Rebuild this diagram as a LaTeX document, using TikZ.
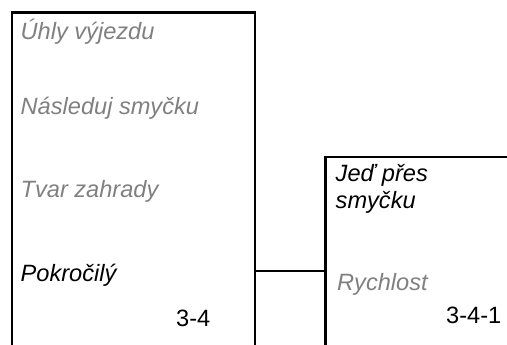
\documentclass[tikz,border=0pt]{standalone}
\usepackage{fontspec}
\setmainfont{Liberation Sans}
\begin{document}
\begin{tikzpicture}[x=1pt,y=-1pt,
  box/.style={draw=black,line width=2.4pt,rectangle,anchor=north west,inner sep=0pt},
  lbl/.style={anchor=base west,inner sep=0pt,font=\fontsize{23.6}{27}\selectfont\itshape},
  dim/.style={lbl,text={rgb,255:red,128;green,128;blue,128}},
  dark/.style={lbl,text=black},
  num/.style={anchor=base west,inner sep=0pt,font=\fontsize{23.6}{27}\selectfont,text=black},
  wire/.style={draw=black,line width=2pt}]
\useasboundingbox (0,0) rectangle (507,345);
\clip (0,0) rectangle (507,345);
\node[box,minimum width=243pt,minimum height=420pt] (lbox) at (11,11.5) {};
\node[box,minimum width=260pt,minimum height=300pt] (rbox) at (324.3,156) {};
\coordinate (cy) at (0,270.5);
\draw[wire] (lbox.east |- cy) -- (rbox.west |- cy);
\node[dim] (t1) at (20.5,39.3) {Úhly výjezdu};
\node[dim] (t2) at (20.5,114.3) {Následuj smyčku};
\node[dim] (t3) at (20.5,197.7) {Tvar zahrady};
\node[dark] (t4) at (20.5,281) {Pokročilý};
\node[num] (n1) at (176,326) {3-4};
\node[dark] (r1) at (335.5,182) {Jeď přes};
\node[dark] (r2) at (335.5,208.3) {smyčku};
\node[dim] (r3) at (337,290.5) {Rychlost};
\node[num] (n2) at (446,323.5) {3-4-1};
\end{tikzpicture}
\end{document}
